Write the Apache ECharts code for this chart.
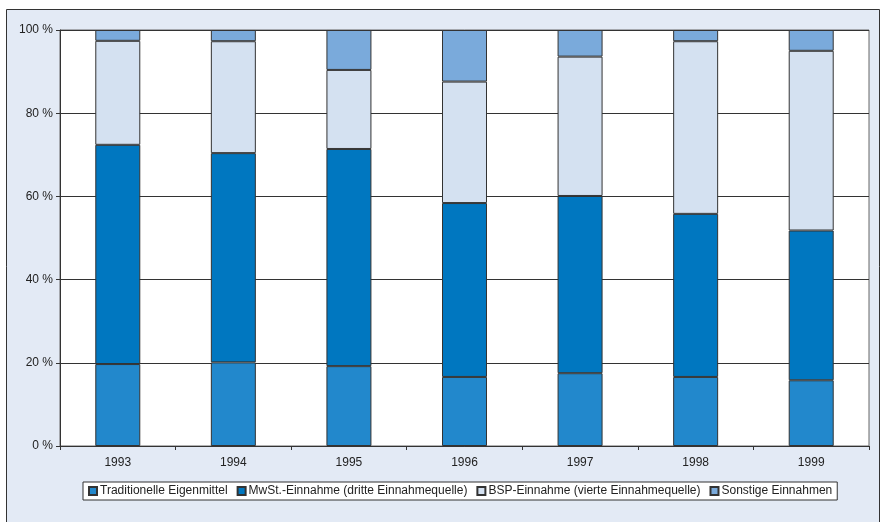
<!DOCTYPE html>
<html>
<head>
<meta charset="utf-8">
<script src="https://cdn.jsdelivr.net/npm/echarts@6/dist/echarts.min.js"></script>
<style>
  html, body { margin: 0; padding: 0; background: #fff; }
  #chart { width: 881px; height: 522px; }
</style>
</head>
<body>
<div id="chart"></div>
<script>
// Jahre (Kategorien)
const years = ['1993', '1994', '1995', '1996', '1997', '1998', '1999'];

// Anteile in Prozent
const traditionelle = [19.7, 20.1, 19.2, 16.6, 17.5, 16.6, 15.8];
const mwst = [52.7, 50.3, 52.2, 41.8, 42.6, 39.2, 36.0];
const bsp = [25.0, 26.9, 19.0, 29.2, 33.5, 41.5, 43.2];
const sonstige = [2.6, 2.7, 9.6, 12.4, 6.4, 2.7, 5.0];

const seriesNames = [
    'Traditionelle Eigenmittel',
    'MwSt.-Einnahme (dritte Einnahmequelle)',
    'BSP-Einnahme (vierte Einnahmequelle)',
    'Sonstige Einnahmen'
];
const seriesColors = ['#2288cc', '#0077c0', '#d4e1f1', '#7aaadb'];
const seriesData = [traditionelle, mwst, bsp, sonstige];

const chart = echarts.init(document.getElementById('chart'));

const option = {
    backgroundColor: '#ffffff',
    animation: false,
    textStyle: { fontFamily: 'Liberation Sans, Arial, sans-serif' },
    graphic: [{
        type: 'rect',
        z: -10,
        shape: { x: 6.5, y: 9.5, width: 873, height: 520 },
        style: { fill: '#e3eaf5', stroke: '#333', lineWidth: 1 }
    }],
    grid: {
        left: 60, right: 12, top: 30, bottom: 76,
        show: true,
        backgroundColor: '#ffffff',
        borderColor: '#666',
        borderWidth: 1
    },
    legend: {
        left: 83,
        top: 482,
        padding: [3, 5, 3, 5],
        itemWidth: 8,
        itemHeight: 8,
        itemGap: 9,
        icon: 'rect',
        backgroundColor: '#ffffff',
        borderColor: '#333',
        borderWidth: 1,
        borderRadius: 0,
        textStyle: {
            fontSize: 12,
            color: '#222',
            padding: [0, 0, 0, -2]
        },
        data: seriesNames
    },
    xAxis: {
        type: 'category',
        data: years,
        axisLine: { lineStyle: { color: '#333', width: 1 } },
        axisTick: { show: true, alignWithLabel: false, length: 4, lineStyle: { color: '#333' } },
        axisLabel: { color: '#222', fontSize: 12, margin: 11 }
    },
    yAxis: {
        type: 'value',
        min: 0,
        max: 100,
        interval: 20,
        axisLine: { show: true, lineStyle: { color: '#333', width: 1 } },
        axisTick: { show: true, length: 4, lineStyle: { color: '#333' } },
        axisLabel: { color: '#222', fontSize: 12, margin: 7, formatter: '{value} %' },
        splitLine: { lineStyle: { color: '#333', width: 1 } }
    },
    series: seriesNames.map((name, i) => ({
        name: name,
        type: 'bar',
        stack: 'anteil',
        barWidth: 45,
        data: seriesData[i],
        itemStyle: {
            color: seriesColors[i],
            borderColor: '#333',
            borderWidth: 1
        }
    }))
};

chart.setOption(option);
</script>
</body>
</html>
